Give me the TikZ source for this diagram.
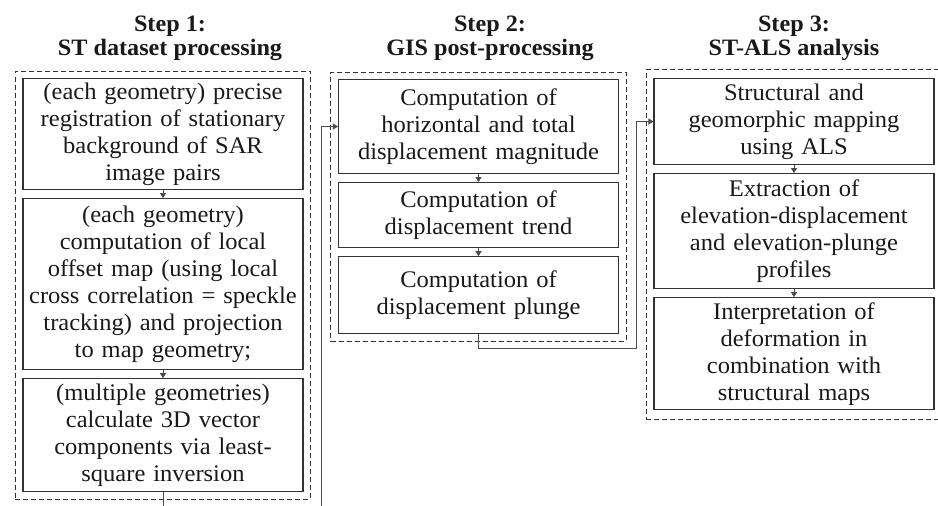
\documentclass[tikz,border=0pt]{standalone}
\usepackage{fontspec}
\setmainfont[FakeStretch=1.03]{Liberation Serif}
\usetikzlibrary{positioning,fit,arrows.meta}
\pgfmathsetmacro{\boxgap}{8}
\tikzset{
  procbox/.style={draw=black!80, line width=1.1pt, text width=278pt, align=center,
    inner xsep=1pt, inner ysep=2pt, text=black!90, font=\fontsize{23.8}{27}\selectfont},
  stepframe/.style={draw=black!80, line width=1pt, dash pattern=on 5pt off 3pt, inner sep=7pt},
  steptitle/.style={align=center, text=black!90, font=\fontsize{23.5}{24}\selectfont\bfseries},
  flow/.style={draw=black!70, line width=0.9pt, -{Triangle[length=5pt,width=6pt]}},
}

\begin{document}
\begin{tikzpicture}[x=1pt, y=-1pt]
    \useasboundingbox (0,0) rectangle (938,506);
    \clip (0,0) rectangle (938,506);
    % step 1 boxes
    \node[procbox, minimum height=111pt, anchor=north] (s1a) at (163,78)
        {(each geometry) precise\\registration of stationary\\background of SAR\\image pairs};
    \node[procbox, minimum height=171pt, below=\boxgap pt of s1a] (s1b)
        {(each geometry)\\computation of local\\offset map (using local\\cross correlation = speckle\\tracking) and projection\\to map geometry;};
    \node[procbox, minimum height=113pt, below=\boxgap pt of s1b] (s1c)
        {(multiple geometries)\\calculate 3D vector\\components via least-\\square inversion};
    % step 2 boxes
    \node[procbox, minimum height=94pt, anchor=north] (s2a) at (478.5,79)
        {Computation of\\horizontal and total\\displacement magnitude};
    \node[procbox, minimum height=65pt, below=\boxgap pt of s2a] (s2b)
        {Computation of\\displacement trend};
    \node[procbox, minimum height=77pt, below=\boxgap pt of s2b] (s2c)
        {Computation of\\displacement plunge};
    % step 3 boxes
    \node[procbox, minimum height=86pt, anchor=north] (s3a) at (794,78)
        {Structural and\\geomorphic mapping\\using ALS};
    \node[procbox, minimum height=115pt, below=\boxgap pt of s3a] (s3b)
        {Extraction of\\elevation-displacement\\and elevation-plunge\\profiles};
    \node[procbox, minimum height=112pt, below=\boxgap pt of s3b] (s3c)
        {Interpretation of\\deformation in\\combination with\\structural maps};
    % dashed frames and titles
    \node[stepframe, fit=(s1a)(s1c)] (frame1) {};
    \node[stepframe, fit=(s2a)(s2c)] (frame2) {};
    \node[stepframe, fit=(s3a)(s3c), inner ysep=9pt] (frame3) {};
    \node[steptitle] (title1) at (170,38) {Step 1:\\ST dataset processing};
    \node[steptitle] (title2) at (490,38) {Step 2:\\GIS post-processing};
    \node[steptitle] (title3) at (794,38) {Step 3:\\ST-ALS analysis};
    % arrows inside each step
    \draw[flow] (s1a) -- (s1b);
    \draw[flow] (s1b) -- (s1c);
    \draw[flow] (s2a) -- (s2b);
    \draw[flow] (s2b) -- (s2c);
    \draw[flow] (s3a) -- (s3b);
    \draw[flow] (s3b) -- (s3c);
    % links between steps
    \coordinate (low1) at (321,540);
    \coordinate (low2) at (636,348);
    \draw[flow] (s1c.south) |- (low1) |- (s2a.west);
    \draw[flow] (s2c.south) |- (low2) |- (s3a.west);
\end{tikzpicture}
\end{document}
